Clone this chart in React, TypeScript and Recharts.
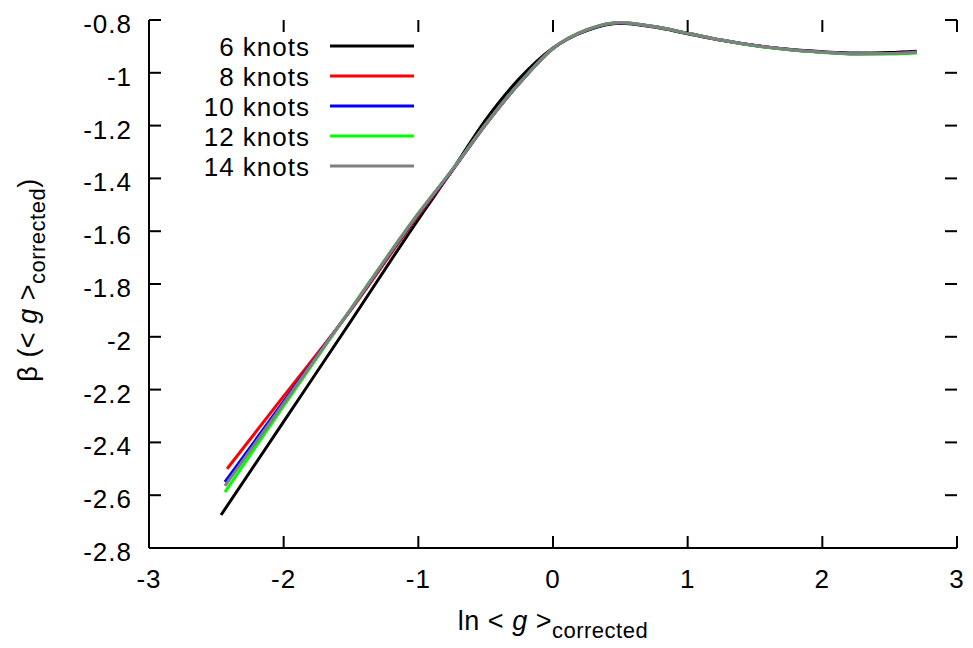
import React from "react";
import { LineChart, Line, XAxis, YAxis, Legend, Label } from "recharts";

// shared x grid after each series' own first point
const X_GRID = [-2.0, -1.5, -1.0, -0.75, -0.5, -0.25, 0, 0.25, 0.5, 0.75, 1.0, 1.25, 1.5, 1.75, 2.0, 2.25, 2.5, 2.7];

const SERIES_NAMES = ["6 knots", "8 knots", "10 knots", "12 knots", "14 knots"];
const SERIES_COLORS = ["#000000", "#ff0000", "#0000ff", "#00ff00", "#808080"];
const START_X = [-2.465, -2.42, -2.436, -2.436, -2.436];

const KNOTS_6 = [-2.675, -2.321, -1.94, -1.555, -1.37, -1.178, -1.022, -0.906, -0.84, -0.812, -0.827, -0.852, -0.877, -0.897, -0.911, -0.92, -0.925, -0.923, -0.918];
const KNOTS_8 = [-2.5, -2.225, -1.898, -1.54, -1.372, -1.197, -1.04, -0.908, -0.838, -0.81, -0.825, -0.85, -0.876, -0.897, -0.912, -0.922, -0.928, -0.927, -0.921];
const KNOTS_10 = [-2.55, -2.245, -1.895, -1.535, -1.37, -1.195, -1.04, -0.908, -0.838, -0.81, -0.825, -0.85, -0.876, -0.897, -0.912, -0.922, -0.928, -0.927, -0.922];
const KNOTS_12 = [-2.588, -2.262, -1.893, -1.532, -1.368, -1.195, -1.04, -0.908, -0.837, -0.809, -0.825, -0.85, -0.876, -0.898, -0.913, -0.923, -0.929, -0.929, -0.925];
const KNOTS_14 = [-2.565, -2.252, -1.894, -1.533, -1.369, -1.195, -1.04, -0.907, -0.837, -0.809, -0.825, -0.85, -0.876, -0.897, -0.912, -0.922, -0.928, -0.927, -0.922];

const SERIES_VALUES = [KNOTS_6, KNOTS_8, KNOTS_10, KNOTS_12, KNOTS_14];

const X_TICKS = [-3, -2, -1, 0, 1, 2, 3];
const Y_TICKS = [-2.8, -2.6, -2.4, -2.2, -2, -1.8, -1.6, -1.4, -1.2, -1, -0.8];
const X_DOMAIN = [-3, 3];
const Y_DOMAIN = [-2.8, -0.8];

const FONT = "'Liberation Sans', Arial, sans-serif";
const W = 973;
const H = 648;
const MARGIN = { top: 20, right: 16, bottom: 0, left: 0 };
const Y_AXIS_W = 149;
const X_AXIS_H = 100;
const TICK_LEN = 12;
const TICK_W = 2;
const PLOT_X = MARGIN.left + Y_AXIS_W;
const PLOT_Y = MARGIN.top;
const PLOT_W = W - MARGIN.left - MARGIN.right - Y_AXIS_W;
const PLOT_H = H - MARGIN.top - MARGIN.bottom - X_AXIS_H;

const axisStroke = { stroke: "#000", strokeWidth: 2 };

function BottomTick(props: any) {
  const { x, y, payload } = props;
  return (
    <text x={x} y={y + 40} textAnchor="middle" fontSize={26} fontFamily={FONT} letterSpacing={1} fill="#000">
      {String(payload.value)}
    </text>
  );
}

function LeftTick(props: any) {
  const { x, y, payload } = props;
  return (
    <text x={x - 17} y={y + 13} textAnchor="end" fontSize={26} fontFamily={FONT} letterSpacing={1} fill="#000">
      {String(payload.value)}
    </text>
  );
}

// gnuplot-style inward tick marks on all four sides of the frame
function FrameTicks() {
  const px = (v: number) => PLOT_X + ((v - X_DOMAIN[0]) / (X_DOMAIN[1] - X_DOMAIN[0])) * PLOT_W;
  const py = (v: number) => PLOT_Y + ((Y_DOMAIN[1] - v) / (Y_DOMAIN[1] - Y_DOMAIN[0])) * PLOT_H;
  const bottom = PLOT_Y + PLOT_H;
  const right = PLOT_X + PLOT_W;
  const half = TICK_W / 2;
  return (
    <svg
      width={W}
      height={H}
      style={{ position: "absolute", left: 0, top: 0, pointerEvents: "none" }}
    >
      <g fill="#000">
        {X_TICKS.map(t => (
          <g key={"x" + t}>
            <rect x={px(t) - half} y={bottom - TICK_LEN} width={TICK_W} height={TICK_LEN} />
            <rect x={px(t) - half} y={PLOT_Y} width={TICK_W} height={TICK_LEN} />
          </g>
        ))}
        {Y_TICKS.map(t => (
          <g key={"y" + t}>
            <rect x={PLOT_X} y={py(t) - half} width={TICK_LEN} height={TICK_W} />
            <rect x={right - TICK_LEN} y={py(t) - half} width={TICK_LEN} height={TICK_W} />
          </g>
        ))}
      </g>
    </svg>
  );
}

function KeyBox({ payload }: any) {
  const items = [...(payload || [])].sort(
    (a: any, b: any) => SERIES_NAMES.indexOf(a.value) - SERIES_NAMES.indexOf(b.value)
  );
  return (
    <svg width={260} height={160}>
      {items.map((p: any, i: number) => {
        const cy = 16 + i * 30;
        return (
          <g key={p.value}>
            <text x={130} y={cy + 10} textAnchor="end" fontSize={26} fontFamily={FONT} letterSpacing={1} fill="#000">
              {p.value}
            </text>
            <line x1={150} x2={234} y1={cy} y2={cy} stroke={p.color} strokeWidth={3} />
          </g>
        );
      })}
    </svg>
  );
}

function XTitle({ viewBox }: any) {
  const cx = viewBox.x + viewBox.width / 2;
  return (
    <text x={cx} y={viewBox.y + 82} textAnchor="middle" fontSize={27} fontFamily={FONT} letterSpacing={0.5} fill="#000">
      ln &lt; <tspan fontStyle="italic">g</tspan> &gt;
      <tspan fontSize={22} dy={8}>corrected</tspan>
    </text>
  );
}

function YTitle({ viewBox }: any) {
  const cy = viewBox.y + viewBox.height / 2 - 4;
  return (
    <text
      x={0}
      y={0}
      transform={`translate(37, ${cy}) rotate(-90)`}
      textAnchor="middle"
      fontSize={27}
      fontFamily={FONT}
      letterSpacing={0.5}
      fill="#000"
    >
      β (&lt; <tspan fontStyle="italic">g</tspan> &gt;
      <tspan fontSize={22} dy={8}>corrected</tspan>
      <tspan dy={-8}>)</tspan>
    </text>
  );
}

export default function App() {
  const series = SERIES_NAMES.map((name, i) => ({
    name,
    color: SERIES_COLORS[i],
    data: [START_X[i], ...X_GRID].map((x, j) => ({ x, y: SERIES_VALUES[i][j] }))
  }));

  return (
    <div style={{ position: "absolute", left: 0, top: 0, width: W, height: H, background: "#fff", fontFamily: FONT }}>
      <LineChart width={W} height={H} margin={MARGIN}>
        <XAxis
          xAxisId="b"
          dataKey="x"
          type="number"
          domain={X_DOMAIN}
          ticks={X_TICKS}
          height={X_AXIS_H}
          tickSize={0}
          tickMargin={0}
          tickLine={false}
          tick={<BottomTick />}
          axisLine={axisStroke}
          interval={0}
        >
          <Label content={<XTitle />} />
        </XAxis>
        <XAxis
          xAxisId="t"
          orientation="top"
          type="number"
          domain={X_DOMAIN}
          height={0}
          tickLine={false}
          tick={false}
          axisLine={axisStroke}
        />
        <YAxis
          yAxisId="l"
          type="number"
          domain={Y_DOMAIN}
          ticks={Y_TICKS}
          width={Y_AXIS_W}
          tickSize={0}
          tickMargin={0}
          tickLine={false}
          tick={<LeftTick />}
          axisLine={axisStroke}
          interval={0}
        >
          <Label content={<YTitle />} />
        </YAxis>
        <YAxis
          yAxisId="r"
          orientation="right"
          type="number"
          domain={Y_DOMAIN}
          width={0}
          tickLine={false}
          tick={false}
          axisLine={axisStroke}
        />
        <Legend
          layout="vertical"
          align="center"
          verticalAlign="middle"
          content={<KeyBox />}
          wrapperStyle={{ left: 180, top: 30, width: 260, height: 160 }}
        />
        {series.map(s => (
          <Line
            key={s.name}
            xAxisId="b"
            yAxisId="l"
            data={s.data}
            dataKey="y"
            name={s.name}
            type="monotone"
            stroke={s.color}
            strokeWidth={3}
            dot={false}
            activeDot={false}
            isAnimationActive={false}
          />
        ))}
      </LineChart>
      <FrameTicks />
    </div>
  );
}
